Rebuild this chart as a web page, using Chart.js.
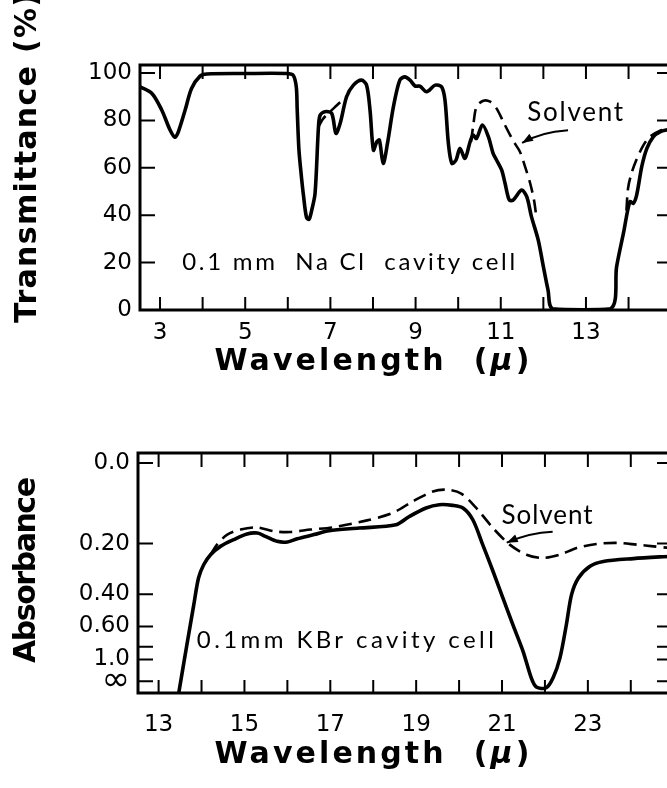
<!DOCTYPE html>
<html>
<head>
<meta charset="utf-8">
<script src="https://cdn.jsdelivr.net/npm/chart.js@4.4.1/dist/chart.umd.min.js"></script>
<style>
  html, body { margin: 0; padding: 0; background: #fff; overflow: hidden; width: 667px; height: 788px; }
  .box { position: absolute; left: 0; width: 700px; }
  #topBox { top: 0; height: 400px; }
  #bottomBox { top: 390px; height: 398px; }
</style>
</head>
<body>
<div class="box" id="topBox"><canvas id="topChart"></canvas></div>
<div class="box" id="bottomBox"><canvas id="bottomChart"></canvas></div>
<script>
// ---- top panel: NaCl cell, transmittance (%) vs wavelength (micron)
const topWavelength = [2.53, 2.81, 3.04, 3.23, 3.35, 3.43, 3.59, 3.74, 3.94, 4.1, 5.0, 5.97, 6.13, 6.2, 6.22,
  6.26, 6.31, 6.37, 6.44, 6.5, 6.56, 6.64, 6.72, 6.76, 6.87, 7.03, 7.13, 7.23, 7.38, 7.54, 7.73, 7.85, 7.93,
  8.01, 8.09, 8.15, 8.24, 8.34, 8.48, 8.63, 8.75, 8.87, 8.99, 9.1, 9.26, 9.46, 9.61, 9.69, 9.77, 9.85, 9.95,
  10.04, 10.16, 10.28, 10.35, 10.43, 10.57, 10.71, 10.82, 10.9, 11.02, 11.1, 11.2, 11.29, 11.49, 11.61, 11.72,
  11.88, 12.0, 12.11, 12.22, 13.58, 13.72, 13.88, 14.03, 14.11, 14.19, 14.31, 14.43, 14.58, 14.74, 14.95];
const topSample = [94.2, 91.4, 84.4, 76.2, 72.9, 75.2, 84.4, 93.5, 98.7, 99.6, 99.8, 99.8, 99.0, 94, 85,
  68, 58, 48, 39, 38.3, 42, 49.2, 77.3, 82.3, 83.7, 83, 74.6, 78.8, 90, 94.9, 97, 94.9, 84.4,
  67.5, 71, 71.7, 61.9, 70.3, 85.8, 97, 98.4, 97, 94.5, 94.5, 92.1, 94.9, 94.2, 88.6, 70.3, 61.9, 63.3,
  68.2, 64, 71, 73.8, 72.4, 78.1, 73.1, 66.1, 63.3, 59.1, 53.5, 46.4, 46.4, 50.6, 47.8, 39.4,
  29.5, 18.3, 8.4, 0.5, 0.5, 18.3, 32.4, 45.7, 45, 48.5, 60.5, 68.2, 73.1, 75.2, 76.2];
const topSolventWavelength = [6.72, 6.82, 6.95, 7.1, 7.25, 7.38, 8,
  10.3, 10.35, 10.43, 10.59, 10.75, 10.9, 11.06, 11.22, 11.33, 11.45, 11.57, 11.69, 11.78, 11.83, 13,
  13.95, 13.99, 14.07, 14.19, 14.35, 14.5, 14.74, 14.95];
const topSolvent = [77.3, 80.5, 83, 85.5, 88, 90, null,
  71, 77.3, 85.8, 88.3, 87.9, 85.1, 79.4, 73.8, 70.3, 66.8, 60.5, 53.5, 46.4, 40, null,
  42, 51.6, 57.7, 63.6, 69.6, 73.1, 75.7, 76.5];
const topXTicks = [3, 4, 5, 6, 7, 8, 9, 10, 11, 12, 13, 14];
const topXLabels = [3, 5, 7, 9, 11, 13];
const topYTicks = [0, 20, 40, 60, 80, 100];

// ---- bottom panel: KBr cell, plotted linear in transmittance, labelled in absorbance
const bottomWavelength = [13.47, 13.66, 13.82, 13.93, 14.05, 14.21, 14.44, 14.75, 15.06, 15.3, 15.49, 15.76,
  16.0, 16.23, 16.62, 16.97, 17.67, 18.53, 18.84, 19.23, 19.54, 19.85, 20.09, 20.32, 20.55, 20.79, 21.02,
  21.25, 21.49, 21.68, 21.8, 22.03, 22.19, 22.35, 22.5, 22.62, 22.78, 23.05, 23.36, 24.06, 24.95];
const bottomSampleT = [-5.3, 16.8, 35.1, 47.3, 53.4, 58, 61.8, 64.9, 67.5, 67.9, 66.4, 64.1,
  63.8, 65.3, 67.2, 69, 70.2, 71.7, 75.5, 79.4, 80.9, 80.6, 79.4, 74, 62.6, 50.4, 38.2,
  26, 13.7, 1.6, -2.7, -3, 1.6, 10.7, 26, 39.7, 47.3, 52.7, 54.9, 56.2, 57.3];
const bottomSolventWavelength = [14.21, 14.36, 14.6, 14.91, 15.3, 15.69, 16.08, 16.54, 17.05, 17.83, 18.45,
  18.92, 19.39, 19.7, 20.05, 20.4, 20.79, 21.18, 21.57, 21.96, 22.35, 22.74, 23.2, 23.67, 24.14, 24.53, 24.95];
const bottomSolventT = [58, 62.6, 67.2, 69.5, 70.5, 68.7, 68.4, 69.5, 70.5, 73.6, 77.1,
  82.4, 87, 87.8, 86, 79.4, 70.2, 62.6, 58, 56.5, 58, 61.1, 62.9, 63.4, 62.6, 61.8, 61];
const bottomXTicks = [13, 14, 15, 16, 17, 18, 19, 20, 21, 22, 23, 24];
const bottomXLabels = [13, 15, 17, 19, 21, 23];
const absTicks = [0, 0.2, 0.4, 0.6, 0.8, 1.0, Infinity];
const absLabels = ['0.0', '0.20', '0.40', '0.60', '', '1.0', '\u221E'];

Chart.defaults.font.family = '"DejaVu Sans", sans-serif';
Chart.defaults.color = '#000';

const toPoints = (xs, ys) => xs.map((x, i) => ({ x: x, y: ys[i] }));
const TITLE_FONT = 'bold 30px "DejaVu Sans", sans-serif';
const MU_FONT = 'bold italic 30px "DejaVu Sans", sans-serif';

// draws text pieces (each with its own font) stretched to a given width
function spacedParts(ctx, parts, x, y, width, align) {
  ctx.letterSpacing = '0px';
  let natural = 0, count = 0;
  parts.forEach(p => { ctx.font = p.font; p.w = ctx.measureText(p.t).width; natural += p.w; count += p.t.length; });
  const gap = (width - natural) / Math.max(count - 1, 1);
  ctx.letterSpacing = gap + 'px';
  ctx.textAlign = 'left';
  let cur = align === 'center' ? x - width / 2 : x;
  parts.forEach(p => {
    ctx.font = p.font;
    ctx.fillText(p.t, cur, y);
    cur += p.w + gap * p.t.length;
  });
  ctx.letterSpacing = '0px';
}

// frame, inward tick marks, in-plot notes, arrow and axis titles
const decor = {
  id: 'decor',
  afterDraw(chart, args, opts) {
    const { ctx, chartArea: a, scales: { x, y } } = chart;
    ctx.save();
    ctx.strokeStyle = '#000';
    ctx.fillStyle = '#000';
    ctx.lineWidth = 3;
    ctx.strokeRect(a.left, a.top, a.right - a.left, a.bottom - a.top);
    ctx.lineWidth = 2;
    ctx.beginPath();
    x.ticks.forEach(t => {
      const px = x.getPixelForValue(t.value);
      ctx.moveTo(px, a.bottom); ctx.lineTo(px, a.bottom - 13);
      ctx.moveTo(px, a.top); ctx.lineTo(px, a.top + 14);
    });
    y.ticks.forEach(t => {
      const py = y.getPixelForValue(t.value);
      ctx.moveTo(a.left, py); ctx.lineTo(a.left + 15, py);
      ctx.moveTo(a.right, py); ctx.lineTo(a.right - 15, py);
    });
    ctx.stroke();

    ctx.textBaseline = 'middle';
    opts.notes.forEach(n => {
      spacedParts(ctx, [{ t: n.text, font: n.font }], x.getPixelForValue(n.at[0]), y.getPixelForValue(n.at[1]), n.width, 'left');
    });

    // arrow pointing at the solvent curve
    const p = v => [x.getPixelForValue(v[0]), y.getPixelForValue(v[1])];
    const [fx, fy] = p(opts.arrow.from), [cx, cy] = p(opts.arrow.ctrl), [tx, ty] = p(opts.arrow.to);
    ctx.lineWidth = 2;
    ctx.beginPath();
    ctx.moveTo(fx, fy);
    ctx.quadraticCurveTo(cx, cy, tx, ty);
    ctx.stroke();
    const ang = Math.atan2(ty - cy, tx - cx);
    ctx.beginPath();
    ctx.moveTo(tx, ty);
    ctx.lineTo(tx - 11 * Math.cos(ang) + 4 * Math.sin(ang), ty - 11 * Math.sin(ang) - 4 * Math.cos(ang));
    ctx.lineTo(tx - 11 * Math.cos(ang) - 4 * Math.sin(ang), ty - 11 * Math.sin(ang) + 4 * Math.cos(ang));
    ctx.closePath();
    ctx.fill();

    // axis titles
    const yt = opts.yTitle, xt = opts.xTitle;
    ctx.save();
    ctx.translate(yt.cx, yt.cy);
    ctx.rotate(-Math.PI / 2);
    spacedParts(ctx, [{ t: yt.text, font: TITLE_FONT }], 0, 0, yt.width, 'center');
    ctx.restore();
    spacedParts(ctx, [{ t: 'Wavelength  (', font: TITLE_FONT }, { t: '\u03BC', font: MU_FONT }, { t: ')', font: TITLE_FONT }],
      xt.cx, xt.cy, xt.width, 'center');
    ctx.restore();
  }
};

function panel(canvasId, cfg) {
  return new Chart(document.getElementById(canvasId), {
    type: 'scatter',
    data: {
      datasets: [
        { data: cfg.sample, showLine: true, borderColor: '#000', borderWidth: 3.6, pointRadius: 0, tension: 0.3 },
        { data: cfg.solvent, showLine: true, borderColor: '#000', borderWidth: 2.6, borderDash: [13, 7],
          pointRadius: 0, tension: 0.3, spanGaps: false }
      ]
    },
    options: {
      responsive: true,
      maintainAspectRatio: false,
      animation: false,
      layout: { padding: { top: cfg.padTop, right: 28, left: 0, bottom: 0 } },
      plugins: { legend: { display: false }, tooltip: { enabled: false }, decor: cfg.decor },
      scales: {
        x: {
          type: 'linear', min: cfg.xMin, max: cfg.xMax,
          grid: { display: false, drawTicks: false }, border: { display: false },
          afterFit: s => { s.height = cfg.xHeight; },
          afterBuildTicks: s => { s.ticks = cfg.xTicks.map(v => ({ value: v })); },
          ticks: {
            autoSkip: false, maxRotation: 0, padding: cfg.xPad,
            font: { size: 23 },
            callback: v => (cfg.xLabels.includes(v) ? String(v) : '')
          }
        },
        y: {
          type: 'linear', min: cfg.yMin, max: cfg.yMax,
          grid: { display: false, drawTicks: false }, border: { display: false },
          afterFit: s => { s.width = cfg.yWidth; },
          afterBuildTicks: s => { s.ticks = cfg.yTicks.map(v => ({ value: v })); },
          ticks: {
            autoSkip: false, padding: 8, callback: cfg.yLabel,
            font: c => ({ size: cfg.yLabelSize ? cfg.yLabelSize(c.index) : 23, weight: 'normal' })
          }
        }
      }
    },
    plugins: [decor]
  });
}

panel('topChart', {
  sample: toPoints(topWavelength, topSample),
  solvent: toPoints(topSolventWavelength, topSolvent),
  xMin: 2.53, xMax: 15.02, yMin: 0, yMax: 103.4,
  xTicks: topXTicks, xLabels: topXLabels,
  yTicks: topYTicks, yLabel: v => String(v),
  padTop: 65, xHeight: 90, yWidth: 140, xPad: 9,
  decor: {
    notes: [
      { text: '0.1 mm  Na Cl  cavity cell', at: [3.52, 20.3], width: 333, font: '24px Lato, sans-serif' },
      { text: 'Solvent', at: [11.62, 83.1], width: 96, font: '26px Lato, sans-serif' }
    ],
    arrow: { from: [12.58, 75.9], ctrl: [11.92, 75.1], to: [11.5, 70.5] },
    yTitle: { text: 'Transmittance (%)', cx: 28, cy: 158, width: 330 },
    xTitle: { cx: 372, cy: 362, width: 315 }
  }
});

panel('bottomChart', {
  sample: toPoints(bottomWavelength, bottomSampleT),
  solvent: toPoints(bottomSolventWavelength, bottomSolventT),
  xMin: 12.52, xMax: 24.96, yMin: -5.4, yMax: 104.6,
  xTicks: bottomXTicks, xLabels: bottomXLabels,
  yTicks: absTicks.map(a => 100 * Math.pow(10, -a)), yLabel: (v, i) => absLabels[i],
  yLabelSize: i => (absLabels[i] === '\u221E' ? 34 : 23),
  padTop: 63, xHeight: 95, yWidth: 138, xPad: 18,
  decor: {
    notes: [
      { text: '0.1mm KBr cavity cell', at: [13.89, 18.6], width: 297, font: '24px Lato, sans-serif' },
      { text: 'Solvent', at: [20.99, 75.9], width: 91, font: '26px Lato, sans-serif' }
    ],
    arrow: { from: [22.18, 68.5], ctrl: [21.64, 68.1], to: [21.11, 63.5] },
    yTitle: { text: 'Absorbance', cx: 27, cy: 180, width: 186 },
    xTitle: { cx: 372, cy: 365, width: 315 }
  }
});
</script>
</body>
</html>
